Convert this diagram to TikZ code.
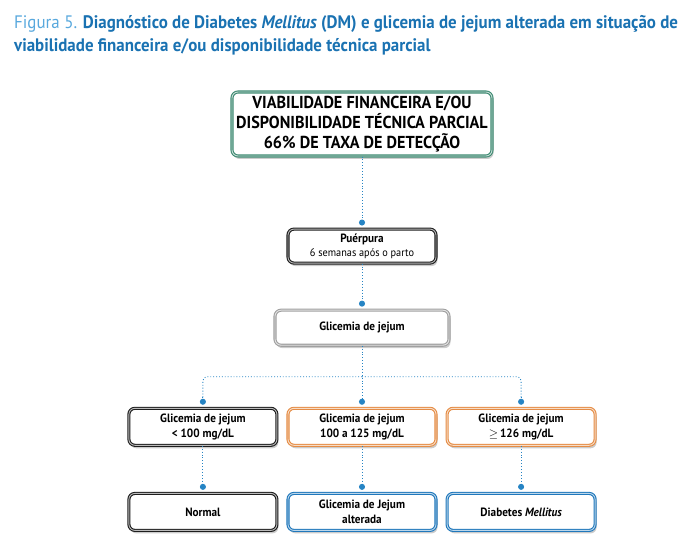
\documentclass[tikz,border=0pt]{standalone}
\usepackage{fontspec}
\setmainfont[FakeStretch=0.935]{PT Sans}
\usepackage{tikz}
\usetikzlibrary{arrows.meta,positioning,shadows,calc}
\definecolor{titleblue}{HTML}{1A72B2}
\definecolor{figblue}{HTML}{58A8DD}
\definecolor{linkblue}{HTML}{2684C4}
\definecolor{tealline}{HTML}{3F8B73}
\definecolor{orangeline}{HTML}{E58C45}
\definecolor{blueline}{HTML}{2078BC}
\definecolor{grayline}{HTML}{A0A0A0}
\definecolor{darkline}{HTML}{1E1E1E}

\begin{document}
\begin{tikzpicture}[
  x=1pt, y=1pt,
  font=\fontsize{12}{14.5}\selectfont,
  stepbox/.style={
    draw=#1,
    double=#1!30,
    double distance=0.9pt,
    line width=1.1pt,
    fill=white,
    rounded corners=6pt,
    align=center,
    inner sep=3pt,
    minimum width=148pt,
    minimum height=37pt,
    drop shadow={opacity=0.4, shadow xshift=1.5pt, shadow yshift=-3pt}
  },
  link/.style={
    draw=linkblue,
    line width=0.9pt,
    dotted,
    shorten >=3pt,
    -{Circle[length=6pt]}
  },
  fork/.style={
    draw=linkblue,
    line width=0.9pt,
    dotted,
    rounded corners=4pt
  }
]
  \useasboundingbox (0,0) rectangle (694,-556);

  % Title
  \node[anchor=north west, align=left, inner sep=0pt, text=titleblue,
        font=\fontsize{18.1}{23}\selectfont\bfseries] (title) at (14,-15)
    {{\mdseries\color{figblue}Figura 5.} Diagnóstico de Diabetes \textit{Mellitus} (DM) e glicemia de jejum alterada em situação de\\
     viabilidade financeira e/ou disponibilidade técnica parcial};

  % --- TOP: condition ---
  \node[stepbox=tealline, minimum width=260pt, minimum height=64pt,
        font=\fontsize{17.3}{20}\selectfont\bfseries] (viab) at (362,-124)
    {VIABILIDADE FINANCEIRA E/OU\\DISPONIBILIDADE TÉCNICA PARCIAL\\66\% DE TAXA DE DETECÇÃO};

  \node[stepbox=darkline, minimum height=34pt, below=72pt of viab] (puerp)
    {\textbf{Puérpura}\\{\fontsize{11}{13}\selectfont 6 semanas após o parto}};

  \node[stepbox=grayline, minimum width=174pt, minimum height=35pt, below=46pt of puerp] (glic)
    {\textbf{Glicemia de jejum}};

  % --- MIDDLE ROW: ranges ---
  \node[stepbox=orangeline, below=62pt of glic] (rmid)
    {\textbf{Glicemia de jejum}\\\textbf{100 a 125 mg/dL}};
  \node[stepbox=darkline, left=10pt of rmid] (rlow)
    {\textbf{Glicemia de jejum}\\\textbf{< 100 mg/dL}};
  \node[stepbox=orangeline, right=10pt of rmid] (rhigh)
    {\textbf{Glicemia de jejum}\\$\geq$\,\textbf{126 mg/dL}};

  % --- LOWER ROW: outcomes ---
  \node[stepbox=darkline, below=47pt of rlow] (normal) {\textbf{Normal}};
  \node[stepbox=blueline, below=47pt of rmid] (alter)
    {\textbf{Glicemia de Jejum}\\\textbf{alterada}};
  \node[stepbox=blueline, below=47pt of rhigh] (dm)
    {\textbf{Diabetes \textit{Mellitus}}};

  % Connecting lines
  \draw[link] (viab.south) -- (puerp.north);
  \draw[link] (puerp.south) -- (glic.north);
  \draw[link] (glic.south) -- (rmid.north);
  \coordinate (split) at ($(glic.south)!0.5!(rmid.north)$);
  \draw[fork] (split) -| ($(rlow.north)+(0,10)$);
  \draw[fork] (split) -| ($(rhigh.north)+(0,10)$);
  \draw[link] ($(rlow.north)+(0,11)$) -- (rlow.north);
  \draw[link] ($(rhigh.north)+(0,11)$) -- (rhigh.north);
  \draw[link] (rlow.south) -- (normal.north);
  \draw[link] (rmid.south) -- (alter.north);
  \draw[link] (rhigh.south) -- (dm.north);

\end{tikzpicture}
\end{document}
